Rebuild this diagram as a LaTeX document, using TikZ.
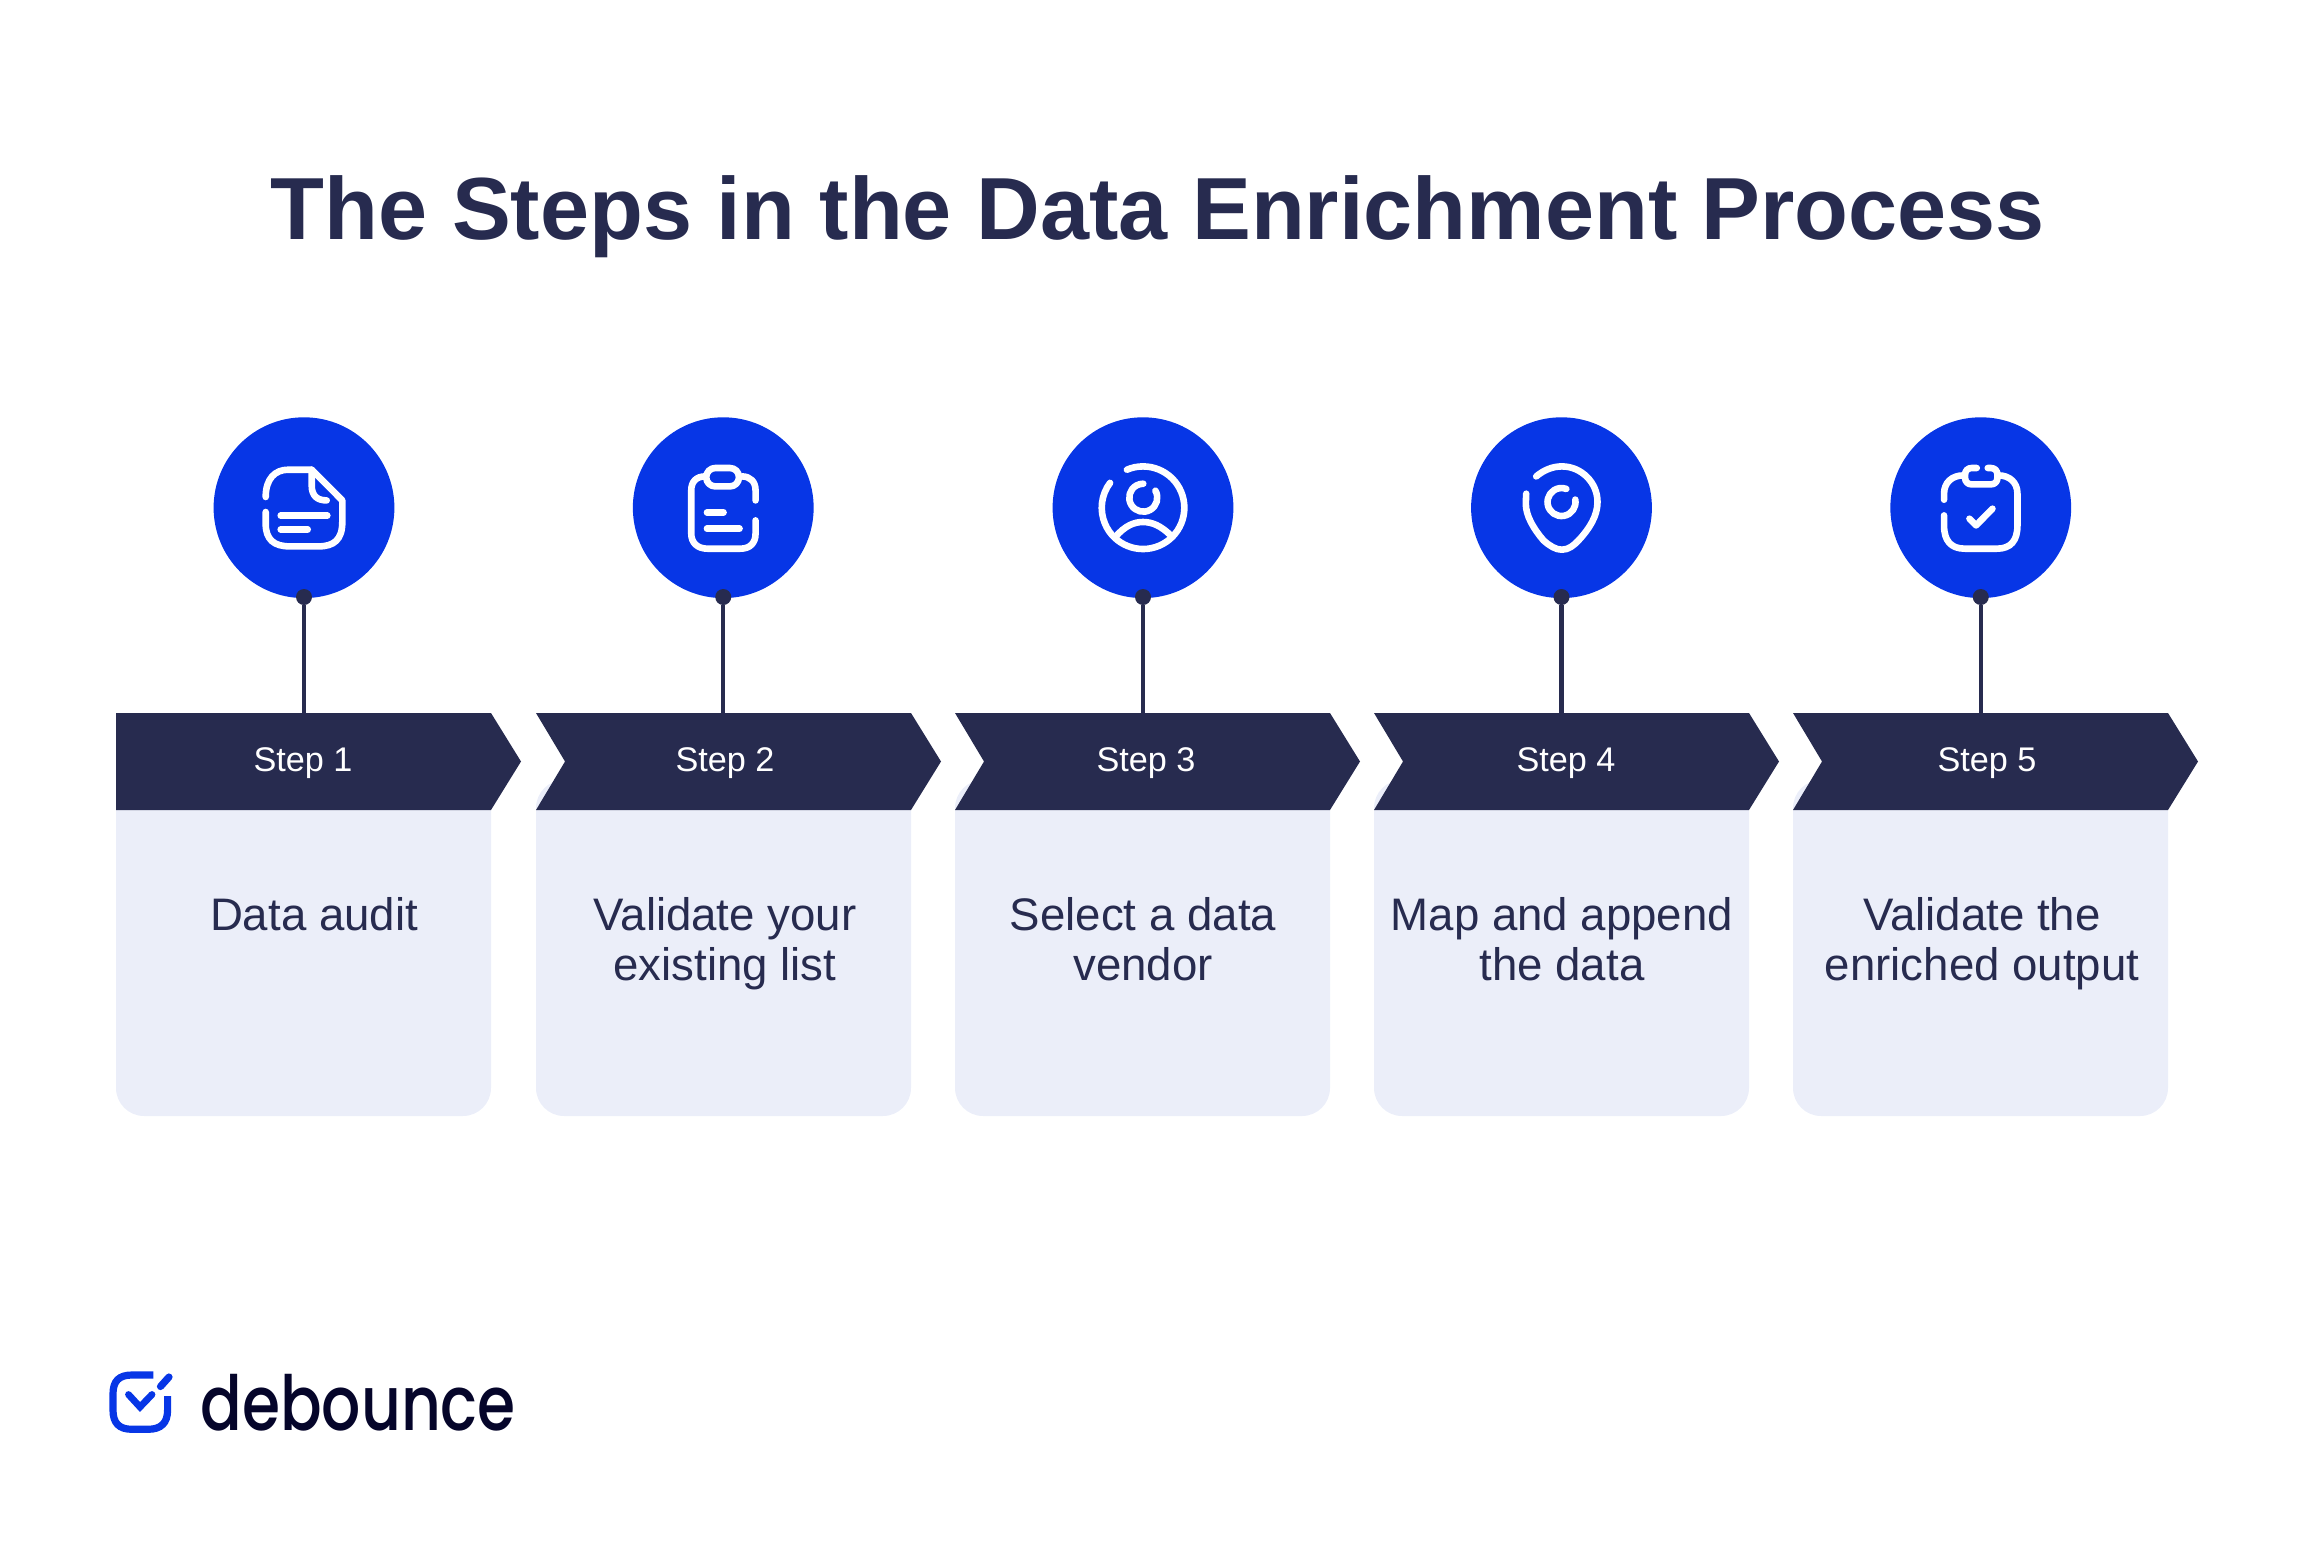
\documentclass[tikz,border=0pt]{standalone}
\usepackage{fontspec}
\setmainfont{Liberation Sans}
\newfontfamily\logofont{Poppins Medium}
\definecolor{navy}{HTML}{272B4F}
\definecolor{royal}{HTML}{0736E6}
\definecolor{pale}{HTML}{EBEEF9}
\definecolor{logoink}{HTML}{05052A}
\tikzset{
	disc/.style={circle,fill=royal,minimum size=90.4pt,inner sep=0pt},
	pin/.style={circle,fill=navy,minimum size=8pt,inner sep=0pt},
	stem/.style={navy,line width=2.1pt},
	glyph/.style={white,line width=3.3pt,line cap=round,line join=round},
	ribbon/.style={fill=navy},
	panel/.style={fill=pale,rounded corners=14pt},
	steplabel/.style={white,font=\fontsize{17.1}{20}\selectfont},
	bodytext/.style={navy,align=center,font=\fontsize{22.8}{25}\selectfont},
}
\begin{document}
\begin{tikzpicture}[x=0.5pt,y=-0.5pt]
	\useasboundingbox (0,0) rectangle (2314,1542);
	\node[navy,font=\fontsize{44.1}{50}\selectfont\bfseries] (title) at (1158,217) {The Steps in the Data Enrichment Process};

	% panels
	\fill[panel] (116,780) -- (116,1116) -- (491,1116) -- (491,780) -- cycle;
	\fill[panel] (536,780) -- (536,1116) -- (911,1116) -- (911,780) -- cycle;
	\fill[panel] (955,780) -- (955,1116) -- (1330,1116) -- (1330,780) -- cycle;
	\fill[panel] (1374,780) -- (1374,1116) -- (1749,1116) -- (1749,780) -- cycle;
	\fill[panel] (1793,780) -- (1793,1116) -- (2168,1116) -- (2168,780) -- cycle;

	% ribbons
	\fill[ribbon] (116,713) -- (491,713) -- (521,761.5) -- (491,810) -- (116,810) -- cycle;
	\fill[ribbon] (536,713) -- (911,713) -- (941,761.5) -- (911,810) -- (536,810) -- (565,761.5) -- cycle;
	\fill[ribbon] (955,713) -- (1330,713) -- (1360,761.5) -- (1330,810) -- (955,810) -- (984,761.5) -- cycle;
	\fill[ribbon] (1374,713) -- (1749,713) -- (1779,761.5) -- (1749,810) -- (1374,810) -- (1403,761.5) -- cycle;
	\fill[ribbon] (1793,713) -- (2168,713) -- (2198,761.5) -- (2168,810) -- (1793,810) -- (1822,761.5) -- cycle;

	\node[disc] (disca) at (304,507.7) {};
	\node[disc] (discb) at (723.25,507.7) {};
	\node[disc] (discc) at (1143,507.7) {};
	\node[disc] (discd) at (1561.5,507.7) {};
	\node[disc] (disce) at (1980.75,507.7) {};

	\coordinate (topa) at (304,713);
	\coordinate (topb) at (723.25,713);
	\coordinate (topc) at (1143,713);
	\coordinate (topd) at (1561.5,713);
	\coordinate (tope) at (1980.75,713);

	\node[pin] (pina) at (304,597) {};
	\node[pin] (pinb) at (723.25,597) {};
	\node[pin] (pinc) at (1143,597) {};
	\node[pin] (pind) at (1561.5,597) {};
	\node[pin] (pine) at (1980.75,597) {};

	\draw[stem] (pina) -- (topa);
	\draw[stem] (pinb) -- (topb);
	\draw[stem] (pinc) -- (topc);
	\draw[stem] (pind) -- (topd);
	\draw[stem] (pine) -- (tope);

	\node[steplabel] (stepa) at (303,763) {Step 1};
	\node[steplabel] (stepb) at (725,763) {Step 2};
	\node[steplabel] (stepc) at (1146,763) {Step 3};
	\node[steplabel] (stepd) at (1566,763) {Step 4};
	\node[steplabel] (stepe) at (1987,763) {Step 5};

	\node[bodytext,anchor=north] (texta) at (314,890) {Data audit};
	\node[bodytext,anchor=north] (textb) at (725,890) {Validate your\\existing list};
	\node[bodytext,anchor=north] (textc) at (1143,890) {Select a data\\vendor};
	\node[bodytext,anchor=north] (textd) at (1562,890) {Map and append\\the data};
	\node[bodytext,anchor=north] (texte) at (1982,890) {Validate the\\enriched output};

	% document icon
	\begin{scope}[shift={(disca.center)}]
		\draw[glyph] (-38.3,-10.7) .. controls (-38.3,-29) and (-29,-38) .. (-15.7,-38) -- (7.7,-38) -- (38.3,-7.3) -- (38.3,14.3) .. controls (38.3,32) and (30,38.7) .. (14.3,38.7) -- (-14,38.7) .. controls (-30,38.7) and (-38.3,32) .. (-38.3,16) -- (-38.3,4.3);
		\draw[glyph] (7.7,-38) -- (7.7,-22.3) .. controls (7.7,-12) and (13,-7.3) .. (22.7,-7.3);
		\draw[glyph] (-23.3,8) -- (23.3,8);
		\draw[glyph] (-23.3,21.7) -- (3.7,21.7);
	\end{scope}

	% clipboard icon
	\begin{scope}[shift={(discb.center)}]
		\draw[glyph] (32.3,-7.3) -- (32.3,-17.3) .. controls (32.3,-26) and (27,-31.3) .. (18.7,-31.3);
		\draw[glyph] (-18,-31.3) .. controls (-27,-31.3) and (-32,-26) .. (-32,-17.3) -- (-32,26) .. controls (-32,35) and (-26,41) .. (-15.7,41) -- (17,41) .. controls (27,41) and (32.3,35) .. (32.3,26) -- (32.3,12.7);
		\draw[glyph,rounded corners=4.5pt] (-17,-39.7) rectangle (15.7,-21.3);
		\draw[glyph] (-16.3,4.7) -- (0.3,4.7);
		\draw[glyph] (-16.3,21) -- (16.3,21);
	\end{scope}

	% person icon
	\begin{scope}[shift={(discc.center)}]
		\draw[glyph] (-16.1,-38) arc[start angle=247,end angle=577,radius=41.3];
		\draw[glyph] (12.4,-17) arc[start angle=330,end angle=630,radius=14];
		\draw[glyph] (-27.7,29.3) .. controls (-18,18) and (-9,14.3) .. (0,14.3) .. controls (9,14.3) and (18,18) .. (28,28);
	\end{scope}

	% map pin icon
	\begin{scope}[shift={(discd.center)}]
		\draw[glyph] (-25.3,-31.3) .. controls (-18,-37.5) and (-9,-41.3) .. (0.3,-41.3) .. controls (20,-41.3) and (36,-25) .. (36,-5.7) .. controls (36,8) and (28,21) .. (17,32.7) .. controls (12,38) and (7,42) .. (0.3,42) .. controls (-6,42) and (-12,38) .. (-18,32.7) .. controls (-28,21) and (-35.7,8) .. (-35.7,-4) -- (-35.3,-14);
		\draw[glyph] (13.8,-8.1) arc[start angle=350,end angle=650,radius=14];
	\end{scope}

	% checked clipboard icon
	\begin{scope}[shift={(disce.center)}]
		\draw[glyph] (-36.7,-8) -- (-36.7,-14) .. controls (-36.7,-25) and (-29,-32.3) .. (-17.3,-32.3);
		\draw[glyph] (17.7,-32.3) .. controls (29,-32.3) and (36.7,-25) .. (36.7,-14) -- (36.7,17.7) .. controls (36.7,33) and (30,41) .. (16,41) -- (-15.7,41) .. controls (-30,41) and (-36.7,33) .. (-36.7,17.7) -- (-36.7,7.7);
		\draw[glyph] (-4,-39.7) -- (-9,-39.7) .. controls (-13,-39.7) and (-15.7,-37) .. (-15.7,-33) -- (-15.7,-30) .. controls (-15.7,-26) and (-13,-23.3) .. (-9,-23.3) -- (10,-23.3) .. controls (14,-23.3) and (16.7,-26) .. (16.7,-30) -- (16.7,-33) .. controls (16.7,-37) and (14,-39.7) .. (10,-39.7) -- (7,-39.7);
		\draw[glyph] (-11.3,11) -- (-4.7,17.7) -- (11.7,1);
	\end{scope}

	% logo
	\draw[royal,line width=3.6pt,line cap=butt] (153.3,1375) -- (132,1375) .. controls (119,1375) and (113,1381) .. (113,1394) -- (113,1410) .. controls (113,1423) and (119,1429.3) .. (132,1429.3) -- (148,1429.3) .. controls (161,1429.3) and (167.6,1423) .. (167.6,1410) -- (167.6,1396);
	\draw[royal,line width=3.6pt,line cap=round] (160.5,1386.5) -- (169,1377);
	\draw[royal,line width=3.4pt,line cap=round,line join=miter] (128.5,1394.5) -- (140,1407) -- (152,1394.5);
	\node[logoink,anchor=base west,inner sep=0pt,xscale=0.81,font=\logofont\fontsize{38}{40}\selectfont] (logotext) at (200,1430) {debounce};
\end{tikzpicture}
\end{document}
